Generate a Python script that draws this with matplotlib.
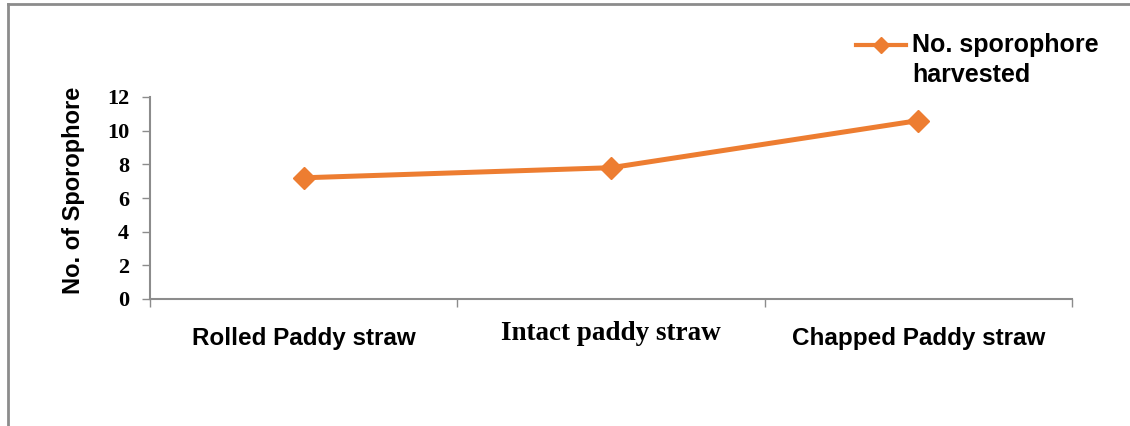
import matplotlib.pyplot as plt
from matplotlib.lines import Line2D

categories = ["Rolled Paddy straw", "Intact paddy straw", "Chapped Paddy straw"]
sporophores = [7.2, 7.8, 10.6]
y_ticks = [0, 2, 4, 6, 8, 10, 12]
series_name = "No. sporophore\nharvested"

orange = "#ED7D31"
grey = "#8C8C8C"
sans = "Liberation Sans"
serif = "Liberation Serif"

W, H = 1130, 426
fig = plt.figure(figsize=(W / 100, H / 100), dpi=100)
ax = fig.add_axes([150 / W, 127 / H, 922 / W, 202 / H])

# outer frame, only top and left edges are visible
fig.add_artist(Line2D([8 / W, 8 / W], [0, 1 - 4 / H], color=grey, lw=2))
fig.add_artist(Line2D([8 / W, 1], [1 - 4 / H, 1 - 4 / H], color=grey, lw=2))

x = range(len(categories))
ax.plot(x, sporophores, color=orange, lw=3.6, marker="D", markersize=11)

ax.set_xlim(-0.5, 2.5)
ax.set_ylim(0, 12)
ax.set_yticks(y_ticks)
ax.set_yticklabels([str(v) for v in y_ticks], fontfamily=serif,
                   fontweight="bold", fontsize=16)

# category boundaries carry the tick marks
ax.set_xticks([-0.5, 0.5, 1.5, 2.5])
ax.set_xticklabels([])
ax.tick_params(axis="x", length=6, color=grey, width=1)
ax.tick_params(axis="y", length=6, color=grey, width=1, pad=9)

for i, name in enumerate(categories):
    if i == 1:
        fam, size, yoff = serif, 19.5, -0.205
    else:
        fam, size, yoff = sans, 17.5, -0.23
    ax.text(i, yoff, name, transform=ax.get_xaxis_transform(),
            ha="center", va="baseline", fontfamily=fam, fontweight="bold",
            fontsize=size)

for side in ["top", "right"]:
    ax.spines[side].set_visible(False)
for side in ["left", "bottom"]:
    ax.spines[side].set_color(grey)
    ax.spines[side].set_linewidth(1.5)

ax.text(-0.0835, 0.54, "No. of Sporophore", transform=ax.transAxes,
        rotation=90, ha="center", va="center", fontfamily=sans,
        fontweight="bold", fontsize=17)

# legend entry: handle sits level with the first text line
fig.add_artist(Line2D([856 / W, 881 / W, 906 / W], [1 - 45 / H] * 3,
                      color=orange, lw=3, marker="D", markersize=8,
                      markevery=[1]))
fig.text(912 / W, 1 - 33 / H, series_name, ha="left", va="top",
         fontfamily=sans, fontweight="bold", fontsize=18, linespacing=1.3)

fig.savefig("out.png", dpi=100)
